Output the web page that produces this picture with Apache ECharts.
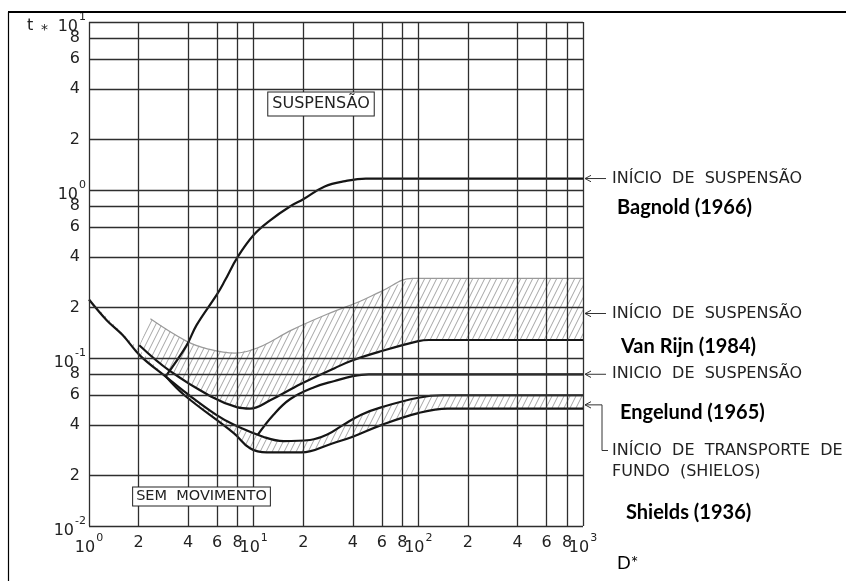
<!DOCTYPE html>
<html><head><meta charset="utf-8">
<script src="https://cdn.jsdelivr.net/npm/echarts@6/dist/echarts.min.js"></script>
<style>html,body{margin:0;padding:0;background:#fff}#c{width:846px;height:581px}</style>
</head><body><div id="c"></div>
<script>
// ---- tick / grid values ----
const xTicks = [1,2,4,6,8,10,20,40,60,80,100,200,400,600,800,1000];
const yTicks = [0.01,0.02,0.04,0.06,0.08,0.1,0.2,0.4,0.6,0.8,1,2,4,6,8,10];

// ---- curves [D*, t*] ----
const bagnold = [[2.9,0.077],[3.9,0.118],[4.5,0.157],[6,0.24],[6.7,0.29],[8,0.4],[10,0.54],[12.6,0.66],[16.7,0.8],[20,0.88],[27,1.05],[36,1.13],[48,1.17],[80,1.17],[1000,1.17]];
const vanRijnUpper = [[2.36,0.171],[3.9,0.126],[5.3,0.113],[7.7,0.107],[10.6,0.115],[17.1,0.147],[29,0.185],[44,0.217],[60,0.25],[92,0.298],[150,0.298],[1000,0.298]];
const vanRijnLower = [[2.02,0.119],[3.08,0.084],[5.5,0.059],[7.9,0.051],[9.5,0.05],[12.6,0.056],[19.3,0.07],[31,0.087],[40,0.097],[60,0.11],[100,0.126],[116,0.128],[200,0.128],[1000,0.128]];
const engelund = [[10.6,0.035],[13.2,0.046],[16.7,0.057],[23.3,0.067],[31,0.073],[40,0.078],[50,0.08],[80,0.08],[1000,0.08]];
const shieldsUpper = [[1,0.223],[1.28,0.168],[1.6,0.137],[2.05,0.103],[2.95,0.077],[3.8,0.063],[5.9,0.046],[7.6,0.04],[11.4,0.034],[15.2,0.032],[22,0.0325],[28,0.035],[35,0.04],[45,0.046],[60,0.051],[100,0.058],[140,0.06],[220,0.06],[1000,0.06]];
const shieldsLower = [[2.95,0.077],[3.8,0.060],[7.6,0.0356],[9.5,0.029],[12,0.0274],[19.5,0.0274],[30,0.031],[40,0.034],[60,0.04],[100,0.047],[150,0.05],[250,0.05],[1000,0.05]];

// ---- annotation anchor values (t* levels the arrows point at) ----
const arrowLevels = [1.17, 0.184, 0.08, 0.0526];

// ---- hatch pattern ----
const hatch = document.createElement('canvas');
hatch.width = 12; hatch.height = 12;
(function(){
  const ctx = hatch.getContext('2d');
  ctx.strokeStyle = '#8e8e8e'; ctx.lineWidth = 0.8;
  for (let x = -6; x <= 12; x += 6) { ctx.beginPath(); ctx.moveTo(x, 12); ctx.lineTo(x + 6, 0); ctx.stroke(); }
})();

const FONT = 'DejaVu Sans';
function isDecade(v){ const e = Math.log10(v); return Math.abs(e - Math.round(e)) < 1e-9; }
function tickText(v){
  if (isDecade(v)) { const e = Math.round(Math.log10(v)); return '{a|10}{s|' + (e < 0 ? '-' + (-e) : e) + '}'; }
  const e = Math.floor(Math.log10(v) + 1e-9);
  return '{d|' + Math.round(v / Math.pow(10, e)) + '}';
}
const rich = {
  a: {fontSize: 16, fontFamily: FONT, color: '#222', padding: [10, 0, 0, 0]},
  s: {fontSize: 11, fontFamily: FONT, color: '#222', padding: [0, 0, 10, 1]},
  d: {fontSize: 16, fontFamily: FONT, color: '#222'}
};
const gridLine = {color: '#2e2e2e', width: 1.3, type: 'solid'};
const xLines = xTicks.map(v => ({xAxis: v, label: {show: true, position: 'start', distance: isDecade(v) ? 4 : 9, formatter: () => tickText(v), rich: rich}}));
const yLines = yTicks.map(v => ({yAxis: v, label: {show: true, position: 'start', distance: isDecade(v) ? 3 : 9, formatter: () => tickText(v), rich: rich}}));

function curve(name, data, color, width) {
  return {name: name, type: 'line', data: data, showSymbol: false, symbol: 'none', smooth: 0.4,
    lineStyle: {color: color, width: width}, z: 4, silent: true};
}
function band(upper, lower) {
  const pts = upper.concat(lower.slice().reverse());
  return {type: 'custom', coordinateSystem: 'cartesian2d', data: pts, silent: true, z: 2,
    renderItem: function(params, api) {
      if (params.dataIndex !== 0) return null;
      const poly = pts.map(p => api.coord(p));
      return {type: 'polygon', shape: {points: poly, smooth: 0}, style: {fill: {image: hatch, repeat: 'repeat'}, stroke: null}};
    }};
}

const option = {
  animation: false,
  backgroundColor: '#fff',
  grid: {left: 89, top: 22, width: 494, height: 504, containLabel: false},
  xAxis: {type: 'log', logBase: 10, min: 1, max: 1000, axisLine: {show: false}, axisTick: {show: false}, axisLabel: {show: false}, splitLine: {show: false}},
  yAxis: {type: 'log', logBase: 10, min: 0.01, max: 10, axisLine: {show: false}, axisTick: {show: false}, axisLabel: {show: false}, splitLine: {show: false}},
  series: [
    {type: 'line', data: [], z: 1, silent: true,
      markLine: {silent: true, symbol: ['none', 'none'], animation: false, lineStyle: gridLine, emphasis: {disabled: true},
        data: xLines.concat(yLines)}},
    band(vanRijnUpper, vanRijnLower),
    band(shieldsUpper, shieldsLower),
    curve('Van Rijn upper', vanRijnUpper, '#9a9a9a', 1.2),
    curve('Bagnold (1966)', bagnold, '#151515', 2.2),
    curve('Van Rijn (1984)', vanRijnLower, '#151515', 2.2),
    curve('Engelund (1965)', engelund, '#151515', 2.2),
    curve('Shields upper', shieldsUpper, '#151515', 2.2),
    curve('Shields (1936)', shieldsLower, '#151515', 2.2)
  ]
};
const chart = echarts.init(document.getElementById('c'), null, {renderer: 'canvas'});
chart.setOption(option);

// ---- annotations, arrows anchored to the plot's right edge at the curve levels ----
const ay = arrowLevels.map(v => chart.convertToPixel({gridIndex: 0}, [1000, v]));
const ax = ay[0][0] + 2;
const txt = (x, y, text, size, opts) => Object.assign({type: 'text', x: x, y: y, z: 100,
  style: Object.assign({text: text, fontSize: size, fontFamily: FONT, fill: '#222', align: 'left', verticalAlign: 'middle', textAlign: 'left', textVerticalAlign: 'middle'}, opts || {})});
const bold = (x, y, text) => txt(x, y, text, 20, {fontFamily: 'Lato', fontWeight: 'bold', fill: '#000'});
const head = (y) => ({type: 'polyline', z: 100, shape: {points: [[ax + 6, y - 3.2], [ax, y], [ax + 6, y + 3.2]]}, style: {stroke: '#333', lineWidth: 1, fill: null}});
const arrow = (y) => [head(y), {type: 'line', z: 100, shape: {x1: ax, y1: y, x2: ax + 21, y2: y}, style: {stroke: '#333', lineWidth: 1}}];
const y1 = ay[0][1], y2 = ay[1][1], y3 = ay[2][1], y4 = ay[3][1];

chart.setOption({graphic: [
  {type: 'line', z: 100, shape: {x1: 8, y1: 12, x2: 846, y2: 12}, style: {stroke: '#000', lineWidth: 2}},
  {type: 'line', z: 100, shape: {x1: 8.5, y1: 12, x2: 8.5, y2: 581}, style: {stroke: '#000', lineWidth: 1.2}},
  txt(27, 26, 't', 16),
  txt(41, 30, '*', 14),
  txt(321, 104, 'SUSPENSÃO', 16, {align: 'center', textAlign: 'center', backgroundColor: '#fff', borderColor: '#222', borderWidth: 1, padding: [4, 4, 3, 4]}),
  txt(201.5, 496.5, 'SEM  MOVIMENTO', 14.5, {align: 'center', textAlign: 'center', backgroundColor: '#fff', borderColor: '#222', borderWidth: 1, padding: [2, 3, 1, 3]}),
  ...arrow(y1),
  txt(612, y1, 'INÍCIO  DE  SUSPENSÃO', 16),
  bold(617, 208, 'Bagnold (1966)'),
  ...arrow(y2),
  txt(612, y2, 'INÍCIO  DE  SUSPENSÃO', 16),
  bold(621, 347, 'Van Rijn (1984)'),
  ...arrow(y3),
  txt(612, y3, 'INICIO  DE  SUSPENSÃO', 16),
  bold(620, 413, 'Engelund (1965)'),
  head(y4),
  {type: 'polyline', z: 100, shape: {points: [[ax, y4], [ax + 17, y4], [ax + 17, 450.5], [ax + 23, 450.5]]}, style: {stroke: '#333', lineWidth: 1, fill: null}},
  txt(612, 450.5, 'INÍCIO  DE  TRANSPORTE  DE', 16),
  txt(612, 472, 'FUNDO  (SHIELOS)', 16),
  bold(626, 512.5, 'Shields (1936)'),
  txt(617, 563, 'D*', 18, {fontFamily: 'Lato', fill: '#000'})
]});
</script></body></html>
